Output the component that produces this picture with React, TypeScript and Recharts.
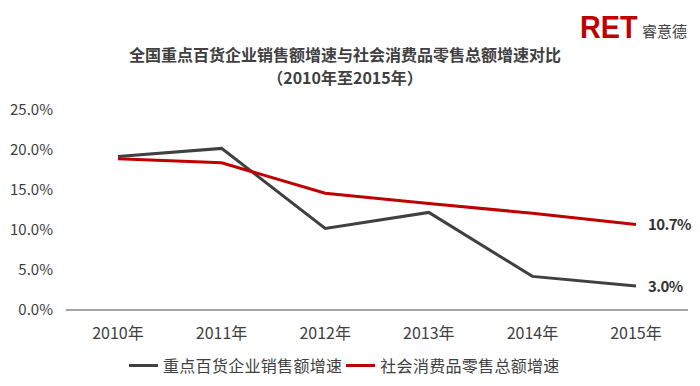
import React from 'react';
import { LineChart, Line, XAxis, YAxis, LabelList } from 'recharts';

const years = ['2010年', '2011年', '2012年', '2013年', '2014年', '2015年'];
const deptStoreGrowth = [19.2, 20.2, 10.2, 12.2, 4.2, 3.0];
const retailGrowth = [18.9, 18.4, 14.6, 13.3, 12.1, 10.7];
const yTicks = [0, 5, 10, 15, 20, 25];

const seriesNames = ['重点百货企业销售额增速', '社会消费品零售总额增速'];
const colors = ['#404040', '#c00000'];

const data = years.map((year, i) => ({
  year,
  dept: deptStoreGrowth[i],
  retail: retailGrowth[i],
}));

const font = '"Noto Sans CJK SC", "Noto Sans", sans-serif';

const EndLabel = (props: any) => {
  const { x, y, value, index } = props;
  if (index !== years.length - 1) return null;
  return (
    <text x={x + 12} y={y} dy={6} fill="#333" fontSize={15} fontWeight="bold" fontFamily={font} letterSpacing={-0.6}>
      {Number(value).toFixed(1)}%
    </text>
  );
};

export default function App() {
  return (
    <div style={{ position: 'absolute', left: 0, top: 0, width: 700, height: 386, background: '#fff', fontFamily: font }}>
      <div style={{ position: 'absolute', left: 580, top: 11, color: '#c00000', fontSize: 32, fontWeight: 'bold', fontFamily: '"Liberation Sans", Arial, sans-serif', lineHeight: '32px', transform: 'scaleX(0.9)', transformOrigin: 'left top' }}>
        RET
      </div>
      <div style={{ position: 'absolute', left: 642, top: 22, color: '#404040', fontSize: 15, lineHeight: '18px' }}>睿意德</div>
      <div style={{ position: 'absolute', left: 0, top: 43, width: 690, textAlign: 'center', color: '#404040', fontSize: 16, fontWeight: 'bold', lineHeight: '23px' }}>
        全国重点百货企业销售额增速与社会消费品零售总额增速对比
        <br />
        （2010年至2015年）
      </div>
      <LineChart
        width={700}
        height={386}
        data={data}
        margin={{ top: 110, right: 12, left: 0, bottom: 46 }}
      >
        <XAxis
          dataKey="year"
          height={30}
          padding={{ left: 52, right: 52 }}
          axisLine={{ stroke: '#868686', strokeWidth: 1.5 }}
          tickLine={false}
          tickMargin={12}
          tick={{ fontSize: 16, fill: '#404040', fontFamily: font }}
        />
        <YAxis
          width={66}
          domain={[0, 25]}
          ticks={yTicks}
          axisLine={false}
          tickLine={false}
          tickMargin={7}
          tickFormatter={(v: number) => `${v.toFixed(1)}%`}
          tick={{ fontSize: 15, fill: '#404040', fontFamily: font }}
        />
        <Line
          dataKey="dept"
          name={seriesNames[0]}
          stroke={colors[0]}
          strokeWidth={3}
          dot={false}
          isAnimationActive={false}
        >
          <LabelList dataKey="dept" content={EndLabel} />
        </Line>
        <Line
          dataKey="retail"
          name={seriesNames[1]}
          stroke={colors[1]}
          strokeWidth={3}
          dot={false}
          isAnimationActive={false}
        >
          <LabelList dataKey="retail" content={EndLabel} />
        </Line>
      </LineChart>
      <div style={{ position: 'absolute', left: 129, top: 355, display: 'flex', alignItems: 'center', fontSize: 16, color: '#404040', lineHeight: '20px', letterSpacing: 0.3 }}>
        {seriesNames.map((name, i) => (
          <span key={name} style={{ display: 'flex', alignItems: 'center', marginRight: 4 }}>
            <span style={{ display: 'inline-block', width: 29, height: 3, background: colors[i], marginRight: 5 }} />
            {name}
          </span>
        ))}
      </div>
    </div>
  );
}
